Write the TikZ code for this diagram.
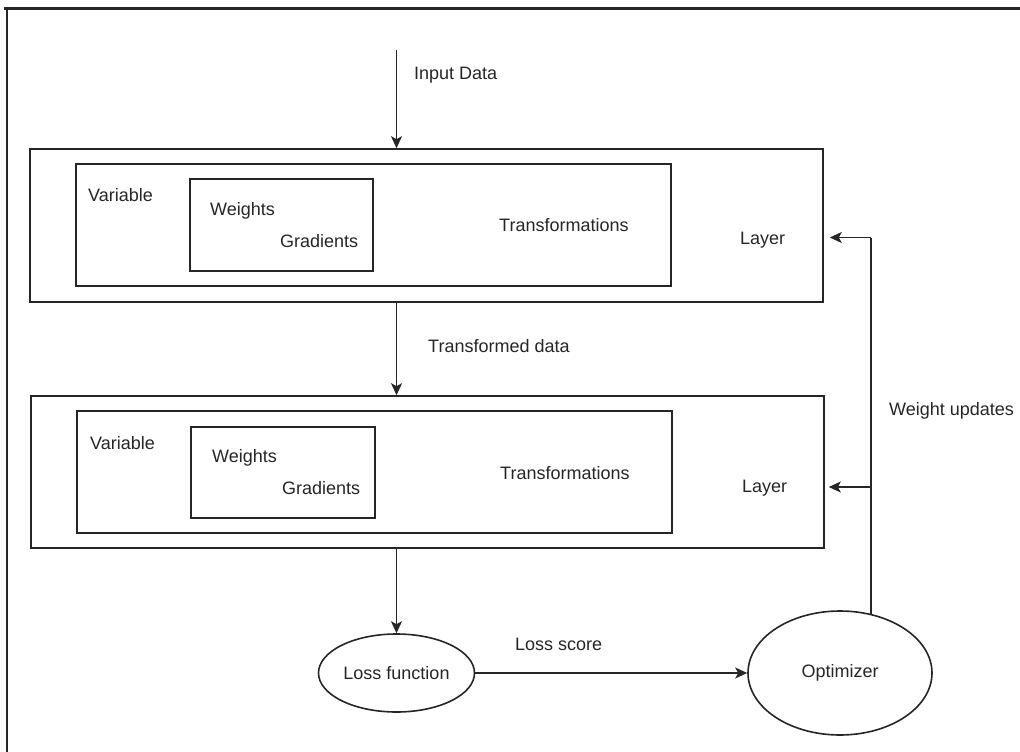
\documentclass[tikz,border=0pt]{standalone}
\usepackage{fontspec}
\setmainfont{Liberation Sans}
\usetikzlibrary{shapes.geometric,arrows.meta}
\begin{document}
\begin{tikzpicture}[x=1pt,y=-1pt,
  box/.style={draw=black!85,line width=1.6pt,inner sep=0pt,minimum width=#1},
  lbl/.style={anchor=west,inner sep=0pt,text=black!85,font=\fontsize{18}{20}\selectfont},
  oval/.style={ellipse,draw=black!85,line width=1.6pt,inner sep=0pt,font=\fontsize{18}{20}\selectfont,text=black!85},
  arr/.style={draw=black!85,line width=1.6pt,-{Stealth[length=12pt,width=11pt,inset=3pt]}},
  conn/.style={draw=black!85,line width=1.6pt}]
\useasboundingbox (0,0) rectangle (1020,752);
% frame
\draw[line width=2.6pt,black!85] (4,8.5) -- (1020,8.5);
\draw[line width=2.4pt,black!85] (7,8.5) -- (7,752);
% layer 1
\node[box=793pt,minimum height=153pt] (l1) at (426.5,225.5) {};
\node[box=595pt,minimum height=122pt] (v1) at (373.5,225) {};
\node[box=183pt,minimum height=92pt] (w1) at (281.5,225) {};
\node[lbl] (tv1) at (88,195) {Variable};
\node[lbl] (tw1) at (210,211) {Weights};
\node[lbl] (tg1) at (280,241) {Gradients};
\node[lbl] (tt1) at (499,225) {Transformations};
\node[lbl] (tl1) at (740,240) {Layer};
% layer 2
\node[box=793pt,minimum height=152pt] (l2) at (427.5,472) {};
\node[box=595pt,minimum height=122pt] (v2) at (374.5,472) {};
\node[box=184pt,minimum height=91pt] (w2) at (283,472.5) {};
\node[lbl] (tv2) at (90,443) {Variable};
\node[lbl] (tw2) at (212,458) {Weights};
\node[lbl] (tg2) at (282,488) {Gradients};
\node[lbl] (tt2) at (500,473) {Transformations};
\node[lbl] (tl2) at (742,488) {Layer};
% ellipses
\node[oval,minimum width=156pt,minimum height=78pt] (loss) at (396.5,673) {Loss function};
\node[oval,minimum width=184pt,minimum height=124pt] (opt) at (840,673) {Optimizer};
% connectors
\coordinate (in) at (396.5,50);
\draw[arr] (in) -- (in |- l1.north);
\node[lbl] (tin) at (414,75) {Input Data};
\draw[arr] (in |- l1.south) -- (in |- l2.north);
\node[lbl] (ttd) at (428,346) {Transformed data};
\draw[arr] (in |- l2.south) -- (loss.north);
\draw[arr] (loss.east) -- (opt.west);
\node[lbl] (tls) at (515,644) {Loss score};
\coordinate (wu) at (871,237.5);
\coordinate (wu2) at (871,487);
\draw[conn] (opt.62 -| wu) -- (wu);
\draw[arr,shorten >=6pt] (wu) -- (wu -| l1.east);
\draw[arr,shorten >=4pt] (wu2) -- (wu2 -| l2.east);
\node[lbl] (twu) at (889,411) {Weight updates};
\end{tikzpicture}
\end{document}
